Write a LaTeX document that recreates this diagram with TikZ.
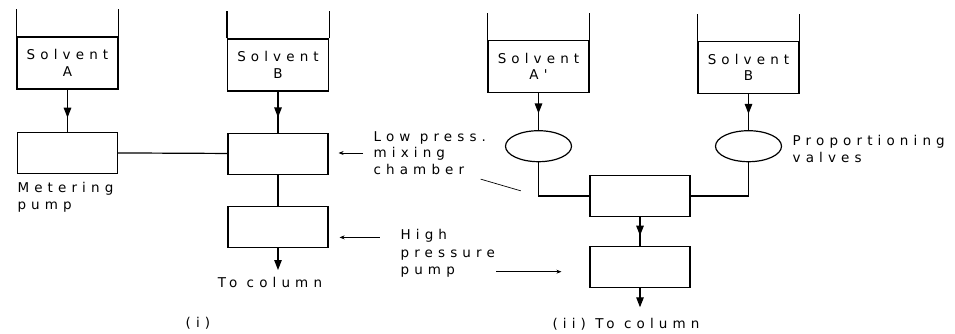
\documentclass[tikz,border=0pt]{standalone}
\usepackage{fontspec}
\newfontfamily\plainfont[LetterSpace=38]{DejaVu Sans}
\usetikzlibrary{positioning,arrows.meta,decorations.markings,shapes.geometric}

\begin{document}
\begin{tikzpicture}[
  x=1pt,y=-1pt,
  line width=1.2pt,
  every node/.style={font=\plainfont\fontsize{13.5}{16.5}\selectfont},
  tank/.style={rectangle,draw,minimum width=101pt,minimum height=52pt,align=center,inner sep=0pt},
  box/.style={rectangle,draw,minimum width=100pt,minimum height=41pt,inner sep=0pt},
  valve/.style={ellipse,draw,minimum width=66pt,minimum height=31pt,inner sep=0pt},
  lbl/.style={align=left,inner sep=0pt},
  flow/.style={postaction={decorate},decoration={markings,mark=at position #1 with {\arrow{Triangle[width=7.5pt,length=10pt]}}}},
  outflow/.style={-{Triangle[width=7.5pt,length=10pt]}},
  ptr/.style={-{Stealth[length=5pt,width=4pt]},line width=0.7pt}
]
\useasboundingbox (0,0) rectangle (955,334);

\node[tank] (tA) at (67.5,63) {Solvent\\A};
\node[tank] (tB) at (278,65) {Solvent\\B};
\node[box,below=42pt of tA] (pumpA) {};
\node[box,below=41pt of tB] (mixA) {};
\node[box,below=31pt of mixA] (hpA) {};
\coordinate[below=22pt of hpA] (outA);

\node[tank] (tC) at (538.5,66.5) {Solvent\\A'};
\node[tank] (tD) at (748.5,67.5) {Solvent\\B};
\node[valve,below=37pt of tC] (vA) {};
\node[valve,below=36pt of tD] (vB) {};
\node[box] (mixB) at (640,196) {};
\node[box,below=29pt of mixB] (hpB) {};
\coordinate[below=19pt of hpB] (outB);

\foreach \t in {tA,tB,tC,tD}
  \draw (\t.north west) -- ++(0,-27) (\t.north east) -- ++(0,-27);

\node[lbl,anchor=north west] (mplbl) at ([yshift=-8pt]pumpA.south west) {Metering\\pump};
\node[lbl,anchor=west] (lowlbl) at (373,153) {Low press.\\mixing\\chamber};
\node[lbl,anchor=north west] (hplbl) at (400,229) {High\\[1pt]pressure\\[1pt]pump};
\node[lbl,right=10pt of vB,yshift=-3pt] (proplbl) {Proportioning\\valves};
\node[lbl] (colA) at (270,282) {To column};
\node[lbl] (capA) at (198,323) {(i)};
\node[lbl] (capB) at (626,324) {(ii) To column};

\draw[flow=0.67] (tA) -- (pumpA);
\draw[flow=0.63] (tB) -- (mixA);
\draw (pumpA) -- (mixA);
\draw (mixA) -- (hpA);
\draw[outflow] (hpA) -- (outA);

\draw[flow=0.55] (tC) -- (vA);
\draw[flow=0.55] (tD) -- (vB);
\draw (vA) |- (mixB);
\draw (vB) |- (mixB);
\draw[flow=0.64] (mixB) -- (hpB);
\draw[outflow] (hpB) -- (outB);

\draw[ptr] ([xshift=-10pt]lowlbl.west) -- ([xshift=10pt]lowlbl.west -| mixA.east);
\draw[line width=0.7pt,shorten >=18.5pt] ([xshift=-6pt,yshift=-4pt]lowlbl.south east) -- (vA.south |- mixB.west);
\draw[ptr] ([xshift=51pt,yshift=-10.5pt]hpA.east) -- ([xshift=11pt,yshift=-10.5pt]hpA.east);
\draw[ptr] ([xshift=-93pt,yshift=-4.5pt]hpB.west) -- ([xshift=-28pt,yshift=-4.5pt]hpB.west);
\end{tikzpicture}
\end{document}
